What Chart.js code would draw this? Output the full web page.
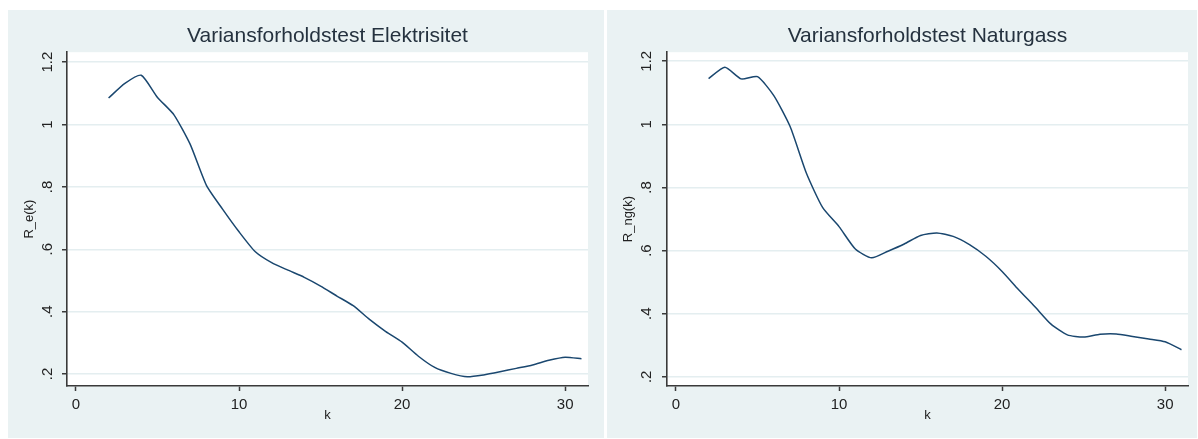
<!DOCTYPE html>
<html><head><meta charset="utf-8">
<script src="https://cdn.jsdelivr.net/npm/chart.js@4.4.0/dist/chart.umd.min.js"></script>
<style>
html,body{margin:0;padding:0;background:#fff;}
body{width:1198px;height:439px;position:relative;overflow:hidden;}
.panel{position:absolute;background:#eaf2f3;}
canvas{display:block;}
</style></head><body>
<div class="panel" style="left:8px;top:10px;width:596px;height:428px;"><canvas id="c1" width="596" height="428"></canvas></div>
<div class="panel" style="left:607px;top:10px;width:590px;height:428px;"><canvas id="c2" width="590" height="428"></canvas></div>
<script>
const kValues = [2,3,4,5,6,7,8,9,10,11,12,13,14,15,16,17,18,19,20,21,22,23,24,25,26,27,28,29,30,31];
const elValues = [1.085,1.132,1.158,1.087,1.032,0.937,0.805,0.728,0.656,0.592,0.557,0.533,0.510,0.482,0.450,0.419,0.375,0.336,0.302,0.257,0.221,0.202,0.191,0.197,0.207,0.218,0.229,0.244,0.254,0.249];
const ngValues = [1.145,1.181,1.144,1.151,1.091,0.993,0.845,0.736,0.676,0.605,0.577,0.598,0.621,0.648,0.656,0.645,0.619,0.582,0.534,0.477,0.423,0.367,0.333,0.326,0.335,0.336,0.328,0.320,0.311,0.286];
const xTicks = [0,10,20,30];
const yTicks = [0.2,0.4,0.6,0.8,1.0,1.2];
const yTickLabels = ['.2','.4','.6','.8','1','1.2'];

const FONT = '"Liberation Sans", Arial, sans-serif';
const LINE = '#1a476f';
const AXIS = '#3a3a3a';
const GRID = '#e4eef0';
const TEXT = '#222222';

const plotBg = {
  id: 'plotBg',
  beforeDraw(chart) {
    const {ctx, chartArea: a} = chart;
    ctx.save();
    ctx.fillStyle = '#ffffff';
    ctx.fillRect(a.left, a.top, a.right - a.left, a.bottom - a.top);
    ctx.restore();
  }
};
const rotY = {
  id: 'rotY',
  afterDraw(chart, args, opts) {
    const s = chart.scales.y, ctx = chart.ctx;
    ctx.save();
    ctx.font = '15px ' + FONT;
    ctx.fillStyle = TEXT;
    ctx.textAlign = 'center';
    ctx.textBaseline = 'middle';
    s.ticks.forEach(t => {
      const idx = yTicks.findIndex(v => Math.abs(v - t.value) < 1e-9);
      if (idx < 0) return;
      const y = s.getPixelForValue(t.value);
      ctx.save();
      ctx.translate(chart.chartArea.left - opts.offset, y);
      ctx.rotate(-Math.PI / 2);
      ctx.fillText(yTickLabels[idx], 0, 0);
      ctx.restore();
    });
    ctx.restore();
  }
};

function makeChart(id, title, yTitle, values, cfg) {
  return new Chart(document.getElementById(id), {
    type: 'line',
    data: {
      datasets: [{
        data: kValues.map((k, i) => ({x: k, y: values[i]})),
        borderColor: LINE,
        borderWidth: 1.5,
        pointRadius: 0,
        tension: 0.2,
        fill: false
      }]
    },
    plugins: [plotBg, rotY],
    options: {
      responsive: false,
      animation: false,
      layout: {padding: {left: 0, right: cfg.padRight, top: 0, bottom: 0}},
      plugins: {
        legend: {display: false},
        tooltip: {enabled: false},
        title: {
          display: true, text: title, fullSize: false,
          color: '#25323f',
          font: {family: FONT, size: 21, weight: 'normal', lineHeight: 1.2},
          padding: {top: 14, bottom: 3}
        },
        rotY: {offset: cfg.yLabOff}
      },
      scales: {
        x: {
          type: 'linear', min: -0.55, max: 31.4,
          afterBuildTicks: s => { s.ticks = xTicks.map(v => ({value: v})); },
          afterFit: s => { s.height = 52; },
          ticks: {color: TEXT, font: {family: FONT, size: 15}, padding: 5, maxRotation: 0},
          grid: {drawOnChartArea: false, tickColor: AXIS, tickLength: 5, tickWidth: 1.5},
          border: {color: AXIS, width: 1.6},
          title: {display: true, text: 'k', color: TEXT, font: {family: FONT, size: 13}, padding: {top: 0, bottom: 15}}
        },
        y: {
          type: 'linear', min: cfg.yMin, max: cfg.yMax,
          afterBuildTicks: s => { s.ticks = yTicks.map(v => ({value: v})); },
          afterFit: s => { s.width = cfg.yWidth; },
          ticks: {display: false},
          grid: {color: GRID, lineWidth: 1.5, tickColor: AXIS, tickLength: 5, tickWidth: 1.5},
          border: {color: AXIS, width: 1.6},
          title: {display: true, text: yTitle, color: TEXT, font: {family: FONT, size: 13}, padding: {top: 14, bottom: 0}}
        }
      }
    }
  });
}

makeChart('c1', 'Variansforholdstest Elektrisitet', 'R_e(k)', elValues,
  {padRight: 16, yWidth: 59, yMin: 0.1615, yMax: 1.232, yLabOff: 19});
makeChart('c2', 'Variansforholdstest Naturgass', 'R_ng(k)', ngValues,
  {padRight: 9, yWidth: 60, yMin: 0.171, yMax: 1.2286, yLabOff: 20});
</script>
</body></html>
